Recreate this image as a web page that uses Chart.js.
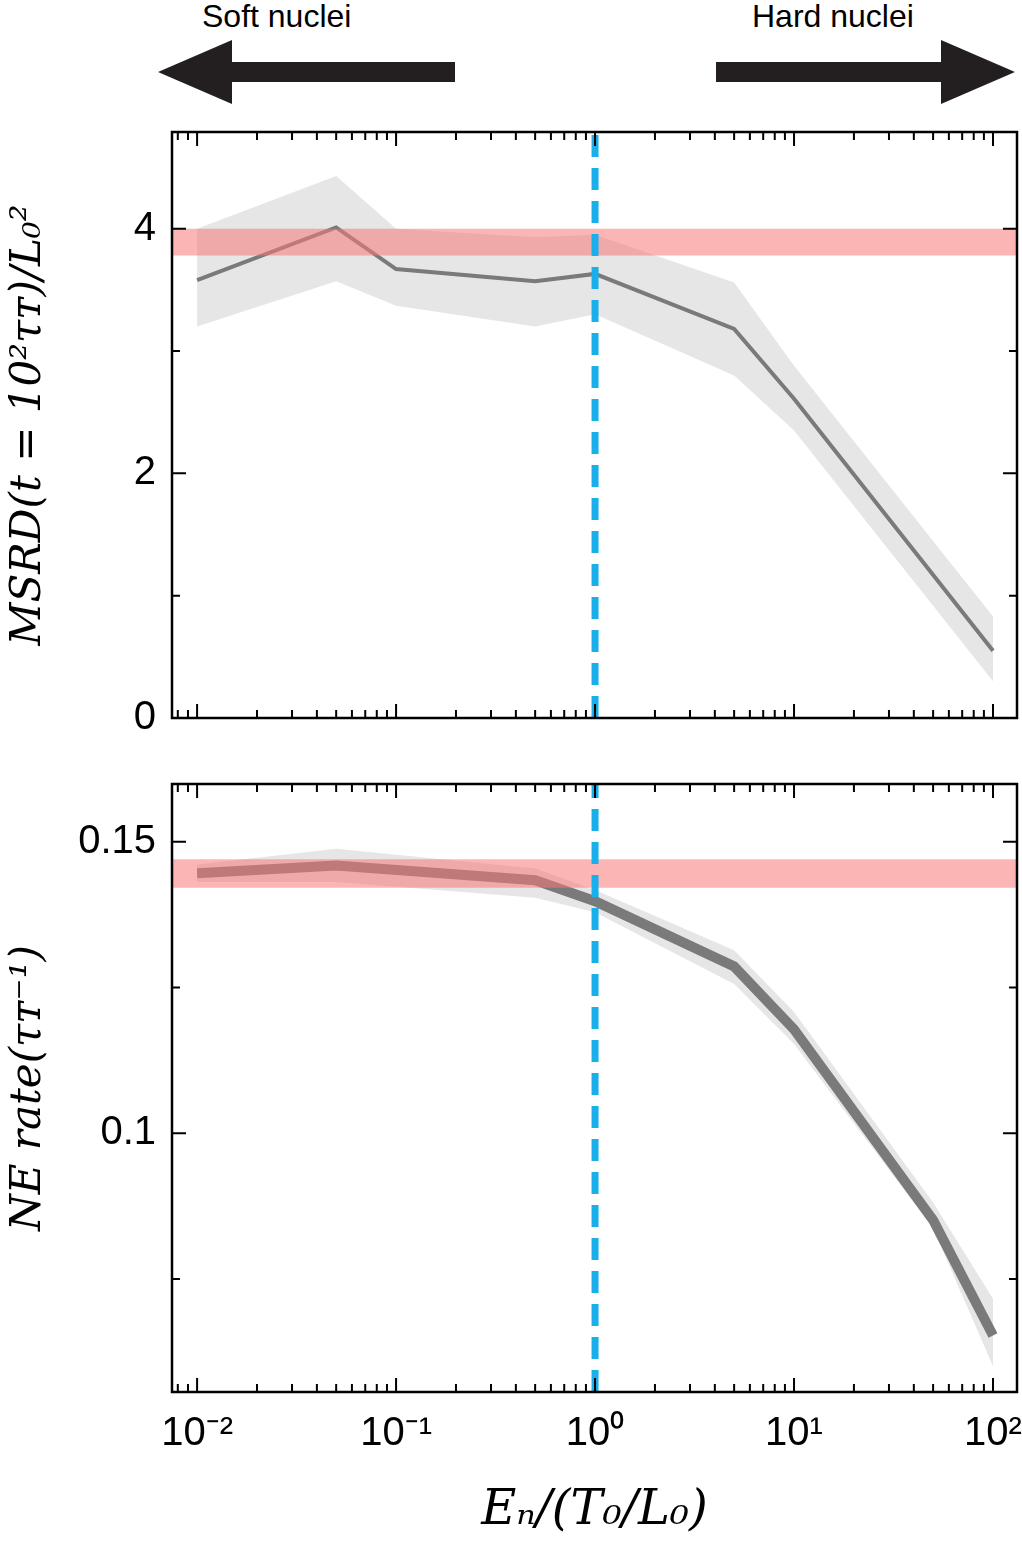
<!DOCTYPE html>
<html><head><meta charset="utf-8">
<script src="https://cdn.jsdelivr.net/npm/chart.js@4"></script>
<style>
body{margin:0;width:1022px;height:1544px;background:#fff;position:relative;overflow:hidden;font-family:"Liberation Sans",Arial,sans-serif}
canvas{position:absolute;left:0}
#lab1,#lab2{position:absolute;font-size:32px;top:-2px}
</style></head><body>
<svg width="1022" height="110" style="position:absolute;left:0;top:0">
<polygon points="158,72 232,40 232,62 455,62 455,82 232,82 232,104" fill="#231f20"/>
<polygon points="1015,72 941,40 941,62 716,62 716,82 941,82 941,104" fill="#231f20"/>
</svg>
<div id="lab1" style="left:202px">Soft nuclei</div>
<div id="lab2" style="left:752px">Hard nuclei</div>
<div style="position:absolute;left:0;top:100px;width:1022px;height:650px"><canvas id="c1"></canvas></div>
<div style="position:absolute;left:0;top:752px;width:1022px;height:792px"><canvas id="c2"></canvas></div>
<script>
const xVals=[0.01,0.05,0.1,0.5,1,5,10,100];
const msrd=[3.58,4.01,3.67,3.57,3.63,3.18,2.61,0.55];
const msrdUp=[4.0,4.43,4.0,3.93,3.95,3.56,2.88,0.83];
const msrdLo=[3.2,3.57,3.37,3.2,3.3,2.8,2.35,0.3];
const xVals2=[0.01,0.05,0.5,1,5,10,50,100];
const ne=[0.1446,0.1459,0.1434,0.1398,0.1286,0.1178,0.0851,0.0653];
const neUp=[0.1461,0.1488,0.1454,0.1417,0.1314,0.1208,0.0881,0.0716];
const neLo=[0.1431,0.1431,0.1404,0.1379,0.1256,0.1153,0.0837,0.0600];
const pink1=[3.78,4.0], pink2=[0.1421,0.1470];
const xTickLabels={0.01:'10⁻²',0.1:'10⁻¹',1:'10⁰',10:'10¹',100:'10²'};
const XMIN=0.00748,XMAX=132;
const majMap={};
const pts=(xs,ys)=>xs.map((x,i)=>({x,y:ys[i]}));
const tickPlugin={id:'tk',afterDraw(c){
 const ctx=c.ctx,a=c.chartArea,xs=c.scales.x,ys=c.scales.y,isMaj=majMap[c.canvas.id];ctx.save();ctx.strokeStyle='#000';ctx.lineWidth=2;
 for(let d=-3;d<=2;d++)for(let m=1;m<=9;m++){const v=m*Math.pow(10,d);if(v<XMIN||v>XMAX)continue;
  const p=xs.getPixelForValue(v),L=m==1?14:8;ctx.beginPath();ctx.moveTo(p,a.bottom);ctx.lineTo(p,a.bottom-L);ctx.moveTo(p,a.top);ctx.lineTo(p,a.top+L);ctx.stroke();}
 const st=c.options.scales.y.ticks.stepSize;
 for(let v=Math.ceil(ys.min/st-1e-9)*st;v<=ys.max+1e-9;v+=st){const p=ys.getPixelForValue(v),L=isMaj(v)?14:8;
  ctx.beginPath();ctx.moveTo(a.left,p);ctx.lineTo(a.left+L,p);ctx.moveTo(a.right,p);ctx.lineTo(a.right-L,p);ctx.stroke();}
 ctx.lineWidth=2.5;ctx.strokeRect(a.left,a.top,a.right-a.left,a.bottom-a.top);ctx.restore();}};
function make(id,xs,y,up,lo,pink,ymin,ymax,step,isMaj,lw,title,bottom,wantTop,wantBot){
 majMap[id]=isMaj;
 const band='rgba(205,205,205,0.5)';
 let xh=bottom?152:5;
 const ch=new Chart(document.getElementById(id),{type:'line',
 data:{datasets:[
  {data:pts(xs,up),borderWidth:0,pointRadius:0,fill:'+1',backgroundColor:band,order:5},
  {data:pts(xs,lo),borderWidth:0,pointRadius:0,fill:false,order:5},
  {data:pts(xs,y),borderColor:'#7a7a7a',borderWidth:lw,pointRadius:0,fill:false,order:3},
  {data:[{x:XMIN,y:pink[1]},{x:XMAX,y:pink[1]}],borderWidth:0,pointRadius:0,fill:'+1',backgroundColor:'rgba(247,120,120,0.55)',order:1},
  {data:[{x:XMIN,y:pink[0]},{x:XMAX,y:pink[0]}],borderWidth:0,pointRadius:0,fill:false,order:1},
  {data:[{x:1,y:ymin},{x:1,y:ymax}],borderColor:'#1aafea',borderWidth:7,borderDash:[22,11],pointRadius:0,fill:false,order:0}
 ]},
 options:{responsive:true,maintainAspectRatio:false,animation:false,events:[],
  layout:{padding:{top:wantTop,right:5,left:0,bottom:0}},
  plugins:{legend:{display:false},tooltip:{enabled:false}},
  scales:{
   x:{type:'logarithmic',min:XMIN,max:XMAX,grid:{display:false},border:{display:false},
    ticks:{display:!!bottom,autoSkip:false,font:{size:40,family:'Liberation Sans'},color:'#000',maxRotation:0,padding:10,callback:(v)=>xTickLabels[v]||''},
    afterBuildTicks:s=>{s.ticks=Object.keys(xTickLabels).map(v=>({value:+v}));},
    title:{display:!!bottom,text:'Eₙ/(T₀/L₀)',font:{size:48,family:'DejaVu Serif',style:'italic'},color:'#000',padding:{top:0}},
    afterFit:s=>{s.height=xh;}},
   y:{min:ymin,max:ymax,grid:{display:false},border:{display:false},
    ticks:{stepSize:step,font:{size:40,family:'Liberation Sans'},color:'#000',padding:8,callback:v=>isMaj(v)?(+v.toFixed(3)).toString():''},
    title:{display:true,text:title,font:{size:42,family:'DejaVu Serif',style:'italic'},color:'#000',padding:{bottom:6}},
    afterFit:s=>{s.width=172;}}}},
 plugins:[tickPlugin]});
 for(let k=0;k<3;k++){
  const a=ch.chartArea;
  ch.options.layout.padding.top=Math.max(0,ch.options.layout.padding.top+(wantTop-a.top));
  xh=Math.max(0,xh+(a.bottom-wantBot));
  ch.update();
 }
 return ch;}
const maj1=v=>Math.abs(v/2-Math.round(v/2))<1e-6;
const maj2=v=>Math.abs(v-0.1)<1e-6||Math.abs(v-0.15)<1e-6;
make('c1',xVals,msrd,msrdUp,msrdLo,pink1,0,4.79,1,maj1,4,'MSRD(t = 10²τᴛ)/L₀²',false,13,645);
make('c2',xVals2,ne,neUp,neLo,pink2,0.0556,0.1599,0.025,maj2,10,'NE rate(τᴛ⁻¹)',true,8,640);
</script></body></html>
